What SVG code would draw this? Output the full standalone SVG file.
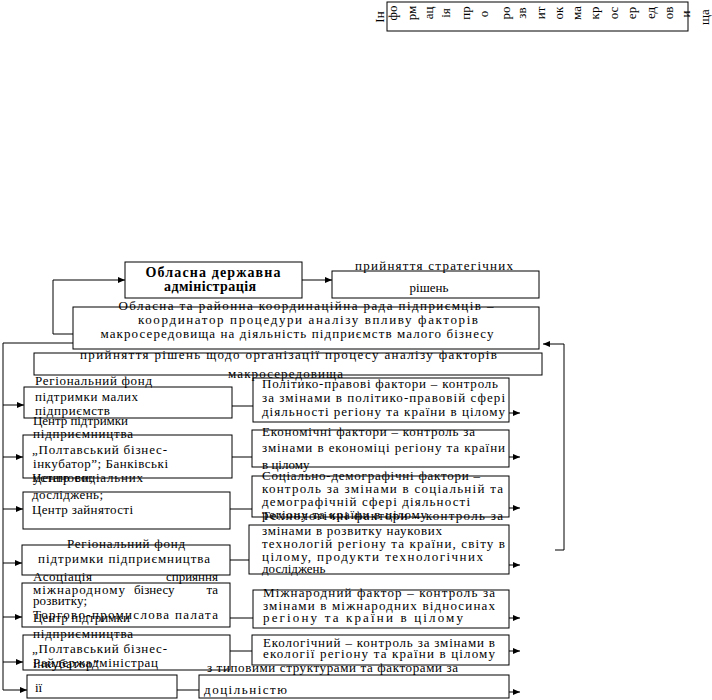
<svg xmlns="http://www.w3.org/2000/svg" width="712" height="700" viewBox="0 0 712 700">
<style>
.b{fill:none;stroke:#000;stroke-width:1}
.t{font-family:"Liberation Serif","Times New Roman",serif;font-size:13px;fill:#000}
.v{font-family:"Liberation Serif","Times New Roman",serif;font-size:13px;fill:#000;text-anchor:middle}
.bold{font-weight:bold;font-size:14px;text-anchor:middle}
.m{text-anchor:middle}
.e{text-anchor:end}
.c line,.c polyline{fill:none;stroke:#000;stroke-width:1}
</style>
<defs>
<marker id="ah" markerWidth="8" markerHeight="8" refX="7" refY="4" orient="auto" markerUnits="userSpaceOnUse"><path d="M0,1 L7,4 L0,7 z" fill="#000"/></marker>
</defs>
<rect width="712" height="700" fill="#fff"/>

<g id="info">
<rect class="b" x="387" y="2" width="301" height="29"/>
<text class="v" transform="translate(384,17) rotate(-90)">Ін</text>
<text class="v" transform="translate(397,13) rotate(-90)">фо</text>
<text class="v" transform="translate(416,13) rotate(-90)">рм</text>
<text class="v" transform="translate(433,13) rotate(-90)">ац</text>
<text class="v" transform="translate(450,13) rotate(-90)">ія</text>
<text class="v" transform="translate(470,13) rotate(-90)">пр</text>
<text class="v" transform="translate(488,14) rotate(-90)">о</text>
<text class="v" transform="translate(510,13) rotate(-90)">ро</text>
<text class="v" transform="translate(526,13) rotate(-90)">зв</text>
<text class="v" transform="translate(545,13) rotate(-90)">ит</text>
<text class="v" transform="translate(563,13) rotate(-90)">ок</text>
<text class="v" transform="translate(581,13) rotate(-90)">ма</text>
<text class="v" transform="translate(599,13) rotate(-90)">кр</text>
<text class="v" transform="translate(618,13) rotate(-90)">ос</text>
<text class="v" transform="translate(636,13) rotate(-90)">ер</text>
<text class="v" transform="translate(655,13) rotate(-90)">ед</text>
<text class="v" transform="translate(673,13) rotate(-90)">ов</text>
<text class="v" transform="translate(690,14) rotate(-90)">и</text>
<text class="v" transform="translate(709,17) rotate(-90)">ща</text>
</g>

<g id="oda">
<rect class="b" x="125" y="262" width="177" height="36"/>
<text class="t bold" x="213" y="277" textLength="135" lengthAdjust="spacing">Обласна державна</text>
<text class="t bold" x="210" y="291" textLength="92" lengthAdjust="spacing">адміністрація</text>
</g>

<g id="strat">
<rect class="b" x="332" y="271" width="207" height="27"/>
<text class="t m" x="434" y="270" textLength="158" lengthAdjust="spacing">прийняття стратегічних</text>
<text class="t m" x="429" y="292">рішень</text>
</g>

<g id="coord">
<rect class="b" x="73" y="307" width="466" height="42"/>
<text class="t m" x="306" y="310" textLength="375" lengthAdjust="spacing">Обласна та районна координаційна рада підприємців –</text>
<text class="t m" x="308" y="324" textLength="340" lengthAdjust="spacing">координатор процедури аналізу впливу факторів</text>
<text class="t m" x="297" y="338" textLength="393" lengthAdjust="spacing">макросередовища на діяльність підприємств малого бізнесу</text>
</g>

<g id="org">
<rect class="b" x="34" y="353" width="508" height="22"/>
<text class="t" x="80" y="359" textLength="417" lengthAdjust="spacing">прийняття рішень щодо організації процесу аналізу факторів</text>
<text class="t" x="228" y="378" textLength="115" lengthAdjust="spacing">макросередовища</text>
</g>

<g id="l1">
<rect class="b" x="24" y="387" width="208" height="31"/>
<text class="t" x="35" y="385" textLength="117" lengthAdjust="spacing">Регіональний фонд</text>
<text class="t" x="35" y="401" textLength="103" lengthAdjust="spacing">підтримки малих</text>
<text class="t" x="35" y="415" textLength="75" lengthAdjust="spacing">підприємств</text>
</g>

<g id="l2">
<rect class="b" x="23" y="435" width="209" height="43"/>
<text class="t" x="33" y="425" textLength="95" lengthAdjust="spacing">Центр підтримки</text>
<text class="t" x="33" y="438" textLength="100" lengthAdjust="spacing">підприємництва</text>
<text class="t" x="32" y="454" textLength="135" lengthAdjust="spacing">„Полтавський бізнес-</text>
<text class="t" x="33" y="468" textLength="135" lengthAdjust="spacing">інкубатор”; Банківські</text>
<text class="t" x="33" y="482" textLength="60" lengthAdjust="spacing">установи;</text>
</g>

<g id="l3">
<rect class="b" x="23" y="492" width="207" height="37"/>
<text class="t" x="32" y="482" textLength="111" lengthAdjust="spacing">Центр соціальних</text>
<text class="t" x="32" y="499" textLength="71" lengthAdjust="spacing">досліджень;</text>
<text class="t" x="32" y="514" textLength="101" lengthAdjust="spacing">Центр зайнятості</text>
</g>

<g id="l4">
<rect class="b" x="22" y="545" width="208" height="30"/>
<text class="t" x="67" y="548" textLength="118" lengthAdjust="spacing">Регіональний фонд</text>
<text class="t" x="38" y="563" textLength="172" lengthAdjust="spacing">підтримки підприємництва</text>
</g>

<g id="l5">
<rect class="b" x="22" y="583" width="208" height="44"/>
<text class="t" x="33" y="581" textLength="59" lengthAdjust="spacing">Асоціація</text>
<text class="t e" x="218" y="581">сприяння</text>
<text class="t" x="33" y="594" textLength="92" lengthAdjust="spacing">міжнародному</text>
<text class="t" x="134" y="594">бізнесу</text>
<text class="t e" x="218" y="594">та</text>
<text class="t" x="33" y="605" textLength="54" lengthAdjust="spacing">розвитку;</text>
<text class="t" x="33" y="619" textLength="185" lengthAdjust="spacing">Торгово-промислова палата</text>
<text class="t" x="33" y="622" textLength="97" lengthAdjust="spacing">Центр підтримки</text>
</g>

<g id="l6">
<rect class="b" x="23" y="635" width="207" height="35"/>
<text class="t" x="33" y="638" textLength="100" lengthAdjust="spacing">підприємництва</text>
<text class="t" x="32" y="653" textLength="135" lengthAdjust="spacing">„Полтавський бізнес-</text>
<text class="t" x="33" y="668" textLength="66" lengthAdjust="spacing">інкубатор”</text>
<text class="t" x="33" y="667" textLength="125" lengthAdjust="spacing">Райдержадміністрац</text>
</g>

<g id="l7">
<rect class="b" x="27" y="675" width="150" height="23"/>
<text class="t" x="35" y="692">ії</text>
</g>

<g id="f1">
<rect class="b" x="253" y="378" width="256" height="44"/>
<text class="t" x="262" y="388" textLength="236" lengthAdjust="spacing">Політико-правові фактори – контроль</text>
<text class="t" x="262" y="402" textLength="243" lengthAdjust="spacing">за змінами в політико-правовій сфері</text>
<text class="t" x="262" y="416" textLength="243" lengthAdjust="spacing">діяльності регіону та країни в цілому</text>
</g>

<g id="f2">
<rect class="b" x="252" y="430" width="257" height="37"/>
<text class="t" x="262" y="436" textLength="213" lengthAdjust="spacing">Економічні фактори – контроль за</text>
<text class="t" x="262" y="452" textLength="243" lengthAdjust="spacing">змінами в економіці регіону та країни</text>
<text class="t" x="262" y="469">в цілому</text>
</g>

<g id="f3">
<rect class="b" x="252" y="476" width="257" height="41"/>
<text class="t" x="262" y="480" textLength="218" lengthAdjust="spacing">Соціально-демографічні фактори –</text>
<text class="t" x="262" y="493" textLength="241" lengthAdjust="spacing">контроль за змінами в соціальній та</text>
<text class="t" x="262" y="506" textLength="208" lengthAdjust="spacing">демографічній сфері діяльності</text>
<text class="t" x="262" y="519" textLength="165" lengthAdjust="spacing">регіону та країни в цілому</text>
</g>

<g id="f4">
<rect class="b" x="249" y="525" width="260" height="49"/>
<text class="t" x="262" y="520" textLength="241" lengthAdjust="spacing">Технологічні фактори – контроль за</text>
<text class="t" x="262" y="535" textLength="180" lengthAdjust="spacing">змінами в розвитку наукових</text>
<text class="t" x="262" y="548" textLength="243" lengthAdjust="spacing">технологій регіону та країни, світу в</text>
<text class="t" x="262" y="561" textLength="221" lengthAdjust="spacing">цілому, продукти технологічних</text>
<text class="t" x="262" y="573">досліджень</text>
</g>

<g id="f5">
<rect class="b" x="253" y="590" width="256" height="38"/>
<text class="t" x="263" y="597" textLength="232" lengthAdjust="spacing">Міжнародний фактор – контроль за</text>
<text class="t" x="263" y="610" textLength="232" lengthAdjust="spacing">змінами в міжнародних відносинах</text>
<text class="t" x="263" y="622" textLength="200" lengthAdjust="spacing">регіону та країни в цілому</text>
</g>

<g id="f6">
<rect class="b" x="252" y="635" width="257" height="30"/>
<text class="t" x="263" y="647" textLength="232" lengthAdjust="spacing">Екологічний – контроль за змінами в</text>
<text class="t" x="263" y="658" textLength="232" lengthAdjust="spacing">екології регіону та країни в цілому</text>
</g>

<g id="f7">
<rect class="b" x="199" y="675" width="310" height="23"/>
<text class="t" x="207" y="672" textLength="251" lengthAdjust="spacing">з типовими структурами та факторами за</text>
<text class="t" x="204" y="694" textLength="83" lengthAdjust="spacing">доцільністю</text>
</g>

<g class="c" id="connectors">
<line x1="302" y1="280" x2="332" y2="280" marker-end="url(#ah)"/>
<polyline points="73,334 53,334 53,280 125,280" marker-end="url(#ah)"/>
<polyline points="555,550 564,550 564,344 543,344" marker-end="url(#ah)"/>
<polyline points="73,343 3,343 3,690"/>
<line x1="3" y1="405" x2="24" y2="405" marker-end="url(#ah)"/>
<line x1="3" y1="457" x2="23" y2="457" marker-end="url(#ah)"/>
<line x1="3" y1="509" x2="23" y2="509" marker-end="url(#ah)"/>
<line x1="3" y1="563" x2="22" y2="563" marker-end="url(#ah)"/>
<line x1="3" y1="617" x2="22" y2="617" marker-end="url(#ah)"/>
<line x1="3" y1="662" x2="23" y2="662" marker-end="url(#ah)"/>
<line x1="3" y1="690" x2="27" y2="690" marker-end="url(#ah)"/>
<line x1="232" y1="406" x2="253" y2="406"/>
<line x1="232" y1="457" x2="252" y2="457"/>
<line x1="230" y1="509" x2="252" y2="509"/>
<line x1="230" y1="560" x2="249" y2="560"/>
<line x1="230" y1="618" x2="253" y2="618"/>
<line x1="230" y1="651" x2="252" y2="651"/>
<line x1="177" y1="690" x2="199" y2="690"/>
<line x1="509" y1="413" x2="520" y2="413" marker-end="url(#ah)"/>
<line x1="509" y1="457" x2="520" y2="457" marker-end="url(#ah)"/>
<line x1="509" y1="508" x2="520" y2="508" marker-end="url(#ah)"/>
<line x1="509" y1="565" x2="520" y2="565" marker-end="url(#ah)"/>
<line x1="509" y1="618" x2="520" y2="618" marker-end="url(#ah)"/>
<line x1="509" y1="651" x2="520" y2="651" marker-end="url(#ah)"/>
<line x1="509" y1="692" x2="520" y2="692" marker-end="url(#ah)"/>
</g>
</svg>
